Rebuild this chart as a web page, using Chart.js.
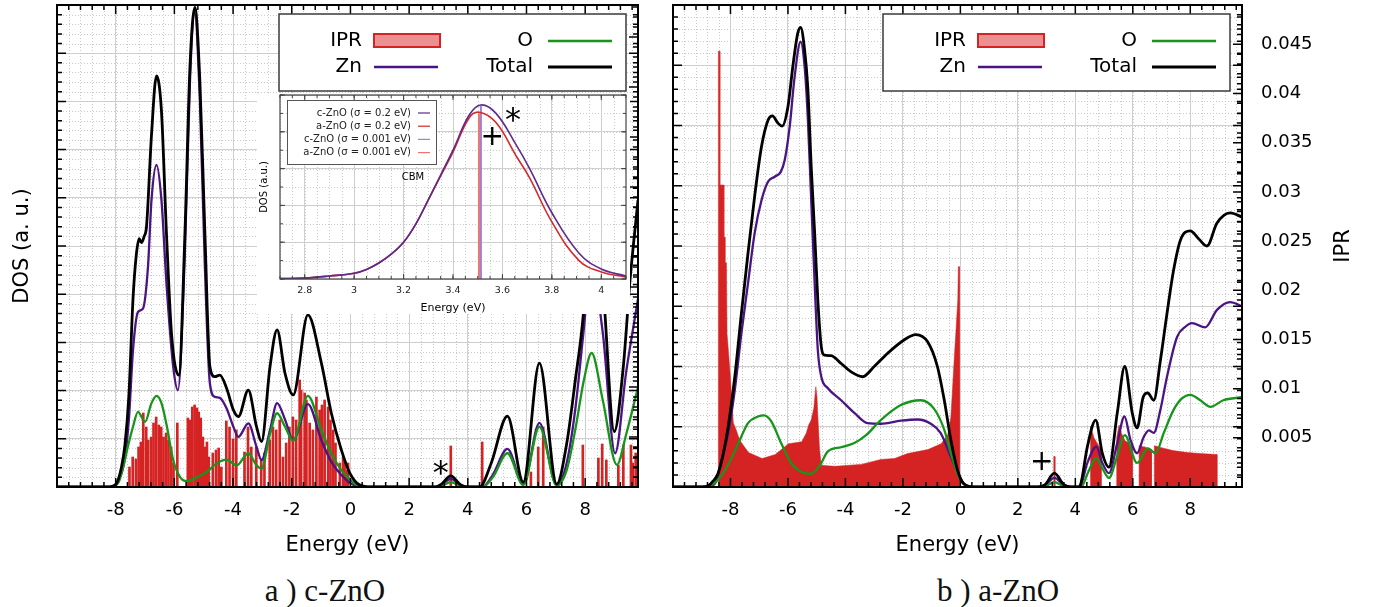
<!DOCTYPE html>
<html>
<head>
<meta charset="utf-8">
<script src="https://cdn.jsdelivr.net/npm/chart.js@4.4.1/dist/chart.umd.min.js"></script>
<style>
  body { margin: 0; background: #fff; }
  #page { position: relative; width: 1374px; height: 607px; overflow: hidden; }
  canvas { position: absolute; }
  .caption {
    position: absolute; top: 574px; width: 300px; text-align: center;
    font-family: "Liberation Serif", serif; font-size: 31px; line-height: 34px; color: #111;
  }
</style>
</head>
<body>
<div id="page">
  <canvas id="cChart" width="660" height="560" style="left:0;top:0"></canvas>
  <canvas id="aChart" width="714" height="560" style="left:660px;top:0"></canvas>
  <canvas id="inset" width="373" height="221" style="left:257px;top:93px"></canvas>
  <div class="caption" style="left:175px">a ) c-ZnO</div>
  <div class="caption" style="left:848px">b ) a-ZnO</div>
</div>
<script>
const FONT = "'DejaVu Sans', sans-serif";
Chart.defaults.font.family = FONT;
Chart.defaults.color = "#000";

const RED = "#d52222";
const ZN = "#4b1484";
const OX = "#17951b";
const TOT = "#000000";
const GRID = "#d0d0d0";
const MINOR = "#cacaca";

// axes
const energyTicks = [-8, -6, -4, -2, 0, 2, 4, 6, 8];
const energyLabels = ["-8", "-6", "-4", "-2", "0", "2", "4", "6", "8"];
const cDosTicks = [0, 1, 2, 3, 4, 5, 6, 7, 8, 9, 10];
const aDosTicks = [0, 1, 2, 3, 4, 5, 6, 7, 8];
const iprTicks = [0.005, 0.01, 0.015, 0.02, 0.025, 0.03, 0.035, 0.04, 0.045];
const iprLabels = ["0.005", "0.01", "0.015", "0.02", "0.025", "0.03", "0.035", "0.04", "0.045"];
const insetTicks = [2.8, 3, 3.2, 3.4, 3.6, 3.8, 4];
const insetLabels = ["2.8", "3", "3.2", "3.4", "3.6", "3.8", "4"];
const insetDosTicks = [0, 0.2, 0.4, 0.6, 0.8, 1];

// c-ZnO : [energy, value]
const cTotal = [[-10, 0], [-8.3, 0], [-8.0, 0.05], [-7.8, 0.42], [-7.68, 0.9], [-7.55, 1.9], [-7.41, 3.9],
  [-7.3, 4.8], [-7.2, 5.15], [-7.12, 5.07], [-7.03, 5.2], [-6.95, 5.4], [-6.78, 7.3], [-6.61, 8.53],
  [-6.44, 7.8], [-6.27, 5.27], [-6.1, 3.2], [-5.85, 2.32], [-5.64, 5.27], [-5.47, 8.7], [-5.3, 9.95],
  [-5.13, 8.4], [-4.96, 5.27], [-4.79, 2.5], [-4.62, 2.29], [-4.45, 2.32], [-4.22, 2.05], [-3.99, 1.6],
  [-3.82, 1.46], [-3.48, 2.01], [-3.2, 1.25], [-3.03, 0.94], [-2.74, 2.5], [-2.5, 3.26], [-2.23, 2.36],
  [-1.95, 1.91], [-1.45, 3.57], [-0.99, 2.57], [-0.65, 1.53], [-0.31, 0.77], [-0.02, 0.29], [0.32, 0.04],
  [0.7, 0], [2.9, 0], [3.1, 0.06], [3.42, 0.23], [3.75, 0.05], [4.0, 0], [4.4, 0], [4.8, 0.5], [5.35, 1.47],
  [5.89, 0.1], [6.44, 2.57], [7.03, 0.06], [7.37, 0.9], [7.66, 2.2], [7.94, 3.6], [8.2, 6.0], [8.6, 4.2],
  [8.99, 1.15], [9.3, 2.5], [9.53, 4.3], [9.8, 5.95]];
const cZn = [[-10, 0], [-8.2, 0], [-7.9, 0.15], [-7.7, 0.55], [-7.55, 1.4], [-7.41, 2.84], [-7.24, 3.63],
  [-7.07, 3.7], [-6.9, 4.56], [-6.78, 5.95], [-6.61, 6.68], [-6.44, 5.95], [-6.27, 4.23], [-6.04, 2.5],
  [-5.88, 2.01], [-5.64, 4.9], [-5.47, 8.4], [-5.31, 9.83], [-5.13, 8.0], [-4.96, 4.56], [-4.79, 2.15],
  [-4.62, 1.87], [-4.45, 1.85], [-4.22, 1.63], [-3.99, 1.25], [-3.82, 1.04], [-3.48, 1.32], [-3.2, 0.83],
  [-3.03, 0.56], [-2.74, 1.18], [-2.5, 1.74], [-2.23, 1.4], [-1.95, 0.97], [-1.45, 1.72], [-0.99, 0.97],
  [-0.65, 0.52], [-0.31, 0.25], [0.0, 0.08], [0.35, 0], [2.9, 0], [3.1, 0.04], [3.42, 0.17], [3.75, 0.04],
  [4.0, 0], [4.5, 0], [4.85, 0.25], [5.35, 0.79], [5.89, 0.05], [6.44, 1.33], [7.03, 0.04], [7.37, 0.5],
  [7.66, 1.6], [7.94, 3.2], [8.2, 4.6], [8.6, 3.2], [9.02, 0.7], [9.4, 2.4], [9.8, 3.9]];
const cO = [[-10, 0], [-8.2, 0], [-7.9, 0.1], [-7.75, 0.4], [-7.58, 0.85], [-7.41, 1.25], [-7.24, 1.56],
  [-7.0, 1.35], [-6.78, 1.74], [-6.61, 1.89], [-6.44, 1.74], [-6.27, 1.3], [-6.04, 0.56], [-5.81, 0.21],
  [-5.58, 0.12], [-5.24, 0.2], [-4.9, 0.31], [-4.56, 0.49], [-4.22, 0.57], [-3.88, 0.45], [-3.48, 0.7],
  [-3.2, 0.45], [-3.03, 0.38], [-2.74, 1.1], [-2.5, 1.53], [-2.23, 1.25], [-1.95, 0.96], [-1.45, 1.89],
  [-0.99, 1.18], [-0.65, 0.7], [-0.31, 0.35], [0.0, 0.15], [0.35, 0], [2.9, 0], [3.1, 0.02], [3.42, 0.1],
  [3.75, 0.02], [4.0, 0], [4.5, 0], [4.85, 0.2], [5.35, 0.7], [5.89, 0.04], [6.44, 1.25], [7.03, 0.03],
  [7.37, 0.35], [7.66, 1.18], [7.95, 2.2], [8.22, 2.78], [8.6, 1.8], [9.08, 0.46], [9.4, 1.1], [9.8, 2.07]];
const cIpr = [[-7.53, 0.0020], [-7.42, 0.0030], [-7.31, 0.0028], [-7.22, 0.0040], [-7.14, 0.0045],
  [-7.06, 0.0074], [-6.96, 0.0060], [-6.89, 0.0047], [-6.79, 0.0050], [-6.71, 0.0064], [-6.62, 0.0070],
  [-6.53, 0.0062], [-6.45, 0.0060], [-6.37, 0.0050], [-6.28, 0.0054], [-6.2, 0.0047], [-6.11, 0.0040],
  [-6.03, 0.0024], [-5.9, 0.0064], [-5.54, 0.0069], [-5.46, 0.0067], [-5.39, 0.0080], [-5.31, 0.0082],
  [-5.23, 0.0079], [-5.17, 0.0075], [-5.1, 0.0069], [-5.03, 0.0050], [-4.95, 0.0040], [-4.89, 0.0045],
  [-4.83, 0.0030], [-4.69, 0.0034], [-4.58, 0.0037], [-4.49, 0.0039], [-4.4, 0.0020], [-4.23, 0.0066],
  [-4.12, 0.0060], [-4.0, 0.0048], [-3.89, 0.0057], [-3.61, 0.0035], [-3.49, 0.0060], [-3.38, 0.0040],
  [-3.21, 0.0040], [-3.04, 0.0027], [-2.93, 0.0034], [-2.75, 0.0047], [-2.64, 0.0060], [-2.53, 0.0057],
  [-2.41, 0.0067], [-2.3, 0.0030], [-2.19, 0.0044], [-2.08, 0.0060], [-1.96, 0.0070], [-1.85, 0.0067],
  [-1.73, 0.0107], [-1.68, 0.0097], [-1.56, 0.0094], [-1.5, 0.0087], [-1.39, 0.0064], [-1.28, 0.0057],
  [-1.16, 0.0090], [-1.05, 0.0077], [-0.97, 0.0082], [-0.88, 0.0087], [-0.76, 0.0080], [-0.68, 0.0067],
  [-0.59, 0.0057], [-0.51, 0.0044], [-0.36, 0.0024], [-0.25, 0.0030], [-0.2, 0.0026], [-0.12, 0.0017],
  [-0.08, 0.0024], [3.42, 0.0041], [4.49, 0.0045], [6.15, 0.0015], [6.4, 0.0040], [6.57, 0.0060],
  [7.92, 0.0042], [8.45, 0.0029], [8.58, 0.0043], [8.72, 0.0027], [9.13, 0.0022], [9.3, 0.0042],
  [9.56, 0.0042], [9.62, 0.0024], [9.72, 0.0034]];

// a-ZnO : [energy, value]
const aTotal = [[-10, 0], [-9.0, 0], [-8.77, 0.02], [-8.6, 0.1], [-8.43, 0.23], [-8.25, 0.55], [-8.08, 1.0],
  [-7.85, 1.83], [-7.62, 2.88], [-7.39, 3.88], [-7.16, 4.82], [-6.92, 5.65], [-6.69, 6.09], [-6.54, 6.16],
  [-6.35, 6.04], [-6.2, 5.99], [-6.0, 6.31], [-5.83, 6.98], [-5.66, 7.53], [-5.56, 7.63], [-5.42, 7.25],
  [-5.31, 6.63], [-5.19, 5.31], [-5.07, 4.21], [-4.96, 3.1], [-4.84, 2.33], [-4.73, 2.19], [-4.5, 2.18],
  [-4.15, 2.05], [-3.8, 1.91], [-3.4, 1.83], [-3.0, 2.0], [-2.53, 2.22], [-1.96, 2.44], [-1.55, 2.53],
  [-1.14, 2.41], [-0.8, 2.0], [-0.56, 1.44], [-0.33, 0.78], [-0.1, 0.28], [0.13, 0.05], [0.5, 0], [2.7, 0],
  [2.95, 0.04], [3.27, 0.23], [3.6, 0.04], [3.85, 0], [4.1, 0], [4.19, 0.05], [4.42, 0.67], [4.71, 1.11],
  [4.94, 0.56], [5.17, 0.33], [5.46, 1.23], [5.72, 2.0], [5.98, 1.23], [6.15, 0.98], [6.36, 1.49],
  [6.52, 1.56], [6.73, 1.44], [6.96, 2.1], [7.19, 2.88], [7.42, 3.6], [7.66, 4.1], [8.0, 4.25], [8.29, 4.12],
  [8.58, 4.0], [8.93, 4.38], [9.39, 4.55], [9.8, 4.48]];
const aZn = [[-10, 0], [-9.0, 0], [-8.55, 0.05], [-8.31, 0.45], [-8.08, 0.9], [-7.85, 1.61], [-7.62, 2.55],
  [-7.39, 3.38], [-7.16, 4.21], [-6.92, 4.76], [-6.69, 5.07], [-6.46, 5.15], [-6.25, 5.23], [-6.11, 5.43],
  [-5.94, 5.98], [-5.77, 6.8], [-5.56, 7.39], [-5.42, 6.98], [-5.31, 6.14], [-5.19, 4.76], [-5.07, 3.38],
  [-4.96, 2.27], [-4.84, 1.83], [-4.61, 1.64], [-4.15, 1.44], [-3.69, 1.23], [-3.23, 1.06], [-2.77, 1.05],
  [-2.07, 1.1], [-1.49, 1.12], [-1.03, 1.05], [-0.69, 0.9], [-0.33, 0.5], [-0.1, 0.25], [0.13, 0.05],
  [0.5, 0], [2.7, 0], [2.95, 0.03], [3.27, 0.15], [3.6, 0.03], [3.85, 0], [4.15, 0], [4.42, 0.4],
  [4.73, 0.67], [4.94, 0.4], [5.17, 0.23], [5.46, 0.73], [5.71, 1.17], [5.92, 0.78], [6.15, 0.56],
  [6.38, 0.83], [6.56, 0.94], [6.73, 0.9], [6.96, 1.28], [7.19, 1.83], [7.54, 2.49], [7.83, 2.66],
  [8.06, 2.72], [8.52, 2.65], [8.93, 2.94], [9.39, 3.07], [9.8, 3.0]];
const aO = [[-10, 0], [-9.0, 0], [-8.7, 0.02], [-8.43, 0.12], [-8.08, 0.37], [-7.73, 0.72], [-7.39, 1.06],
  [-7.04, 1.17], [-6.83, 1.19], [-6.58, 1.09], [-6.23, 0.72], [-5.88, 0.39], [-5.54, 0.25], [-5.19, 0.22],
  [-4.9, 0.35], [-4.61, 0.59], [-4.15, 0.66], [-3.69, 0.73], [-3.28, 0.86], [-2.77, 1.11], [-2.07, 1.36],
  [-1.38, 1.44], [-0.92, 1.3], [-0.56, 0.95], [-0.33, 0.56], [-0.1, 0.22], [0.13, 0.04], [0.5, 0], [2.7, 0],
  [2.95, 0.01], [3.27, 0.08], [3.6, 0.01], [3.85, 0], [4.2, 0], [4.45, 0.25], [4.73, 0.48], [4.95, 0.3],
  [5.17, 0.15], [5.45, 0.5], [5.72, 0.86], [6.15, 0.4], [6.53, 0.64], [6.79, 0.56], [7.08, 0.9],
  [7.42, 1.28], [7.71, 1.47], [8.0, 1.53], [8.35, 1.44], [8.7, 1.33], [9.15, 1.44], [9.8, 1.49]];
const aIpr = [[-10, 0], [-8.42, 0], [-8.42, 0.0443], [-8.37, 0.0443], [-8.37, 0.0307], [-8.23, 0.0307],
  [-8.23, 0.0254], [-8.19, 0.0254], [-8.19, 0.0228], [-8.14, 0.0228], [-8.12, 0.0156], [-8.05, 0.013],
  [-8.0, 0.011], [-7.95, 0.0085], [-7.9, 0.0065], [-7.8, 0.0058], [-7.72, 0.0051], [-7.62, 0.0045],
  [-7.37, 0.0035], [-6.9, 0.0029], [-6.44, 0.0033], [-5.98, 0.0044], [-5.52, 0.0046], [-5.36, 0.0055],
  [-5.28, 0.0063], [-5.19, 0.0068], [-5.1, 0.008], [-5.03, 0.0102], [-4.99, 0.0092], [-4.96, 0.0072],
  [-4.9, 0.0038], [-4.84, 0.0022], [-4.37, 0.0021], [-3.45, 0.0023], [-2.77, 0.0028], [-2.29, 0.0029],
  [-1.84, 0.0034], [-1.13, 0.0038], [-0.67, 0.0044], [-0.44, 0.0053], [-0.33, 0.0071], [-0.21, 0.0132],
  [-0.15, 0.016], [-0.09, 0.019], [-0.07, 0.0224], [-0.04, 0.0224], [-0.04, 0.002], [-0.02, 0],
  [3.25, 0], [3.25, 0.0031], [3.29, 0.0031], [3.29, 0], [4.53, 0], [4.53, 0.0062], [4.6, 0.0055],
  [4.65, 0.005], [4.75, 0.0045], [4.9, 0.0038], [4.9, 0], [5.44, 0], [5.44, 0.005], [5.52, 0.0063],
  [5.6, 0.0055], [5.73, 0.0047], [5.85, 0.0045], [5.98, 0.0041], [5.98, 0], [6.22, 0], [6.22, 0.0042],
  [6.5, 0.004], [6.65, 0.0038], [6.65, 0], [6.75, 0], [6.75, 0.0042], [7.0, 0.004], [7.4, 0.0037],
  [7.9, 0.0035], [8.35, 0.0034], [8.93, 0.0033], [8.93, 0], [9.8, 0]];

// inset (CBM), normalised DOS
const insetC02 = [[2.7, 0.002], [2.8, 0.005], [2.9, 0.016], [3.0, 0.031], [3.05, 0.052], [3.1, 0.087],
  [3.15, 0.135], [3.2, 0.2], [3.25, 0.3], [3.3, 0.43], [3.35, 0.565], [3.4, 0.7], [3.465, 0.89],
  [3.513, 0.946], [3.574, 0.9], [3.655, 0.73], [3.71, 0.6], [3.8, 0.36], [3.91, 0.14], [4.0, 0.054],
  [4.1, 0.016]];
const insetA02 = [[2.7, 0.002], [2.8, 0.005], [2.9, 0.016], [3.0, 0.031], [3.05, 0.052], [3.1, 0.087],
  [3.15, 0.135], [3.2, 0.2], [3.25, 0.3], [3.3, 0.43], [3.35, 0.56], [3.4, 0.69], [3.465, 0.875],
  [3.506, 0.906], [3.574, 0.85], [3.655, 0.67], [3.71, 0.55], [3.8, 0.31], [3.91, 0.1], [4.0, 0.038],
  [4.1, 0.01]];
const insetC0001 = [[3.513, 0], [3.513, 0.94]];
const insetA0001 = [[3.505, 0], [3.505, 0.9]];

const pts = (arr) => arr.map(([x, y]) => ({ x, y }));
const stepValues = (min, max, step) => {
  const out = [];
  for (let i = 0; ; i++) {
    const v = min + i * step;
    if (v > max + step * 1e-6) break;
    out.push(v);
  }
  return out;
};
const noPad = (s) => { s.paddingTop = 0; s.paddingBottom = 0; s.paddingLeft = 0; s.paddingRight = 0; };

function lineSet(label, data, color, width, order) {
  return {
    type: "line", label, data: pts(data), borderColor: color, backgroundColor: color,
    borderWidth: width, pointRadius: 0, cubicInterpolationMode: "monotone",
    fill: false, order, yAxisID: "y",
  };
}

function mainLegend(ctx, chart, bx) {
  const ds = chart.data.datasets;
  const by = 14, w = 347, h = 77;
  ctx.save();
  ctx.fillStyle = "#fff";
  ctx.fillRect(bx, by, w, h);
  ctx.strokeStyle = "#3a3a3a";
  ctx.lineWidth = 1.5;
  ctx.strokeRect(bx, by, w, h);
  ctx.font = `20px ${FONT}`;
  ctx.textAlign = "right";
  ctx.textBaseline = "middle";
  ctx.fillStyle = "#000";
  // IPR, Zn, O, Total
  const slots = [[83, 95, 27], [83, 95, 53], [254, 269, 27], [254, 269, 53]];
  ds.forEach((d, i) => {
    const [tx, sx, ty] = slots[i];
    ctx.fillText(d.label, bx + tx, by + ty);
    if (i === 0) {
      ctx.fillStyle = "rgba(213,34,34,0.5)";
      ctx.fillRect(bx + sx, by + 20, 66, 13);
      ctx.strokeStyle = RED;
      ctx.lineWidth = 2;
      ctx.strokeRect(bx + sx, by + 20, 66, 13);
      ctx.fillStyle = "#000";
    } else {
      ctx.strokeStyle = d.borderColor;
      ctx.lineWidth = d.borderWidth;
      ctx.beginPath();
      ctx.moveTo(bx + sx, by + ty);
      ctx.lineTo(bx + sx + 64, by + ty);
      ctx.stroke();
    }
  });
  ctx.restore();
}

function insetLegend(ctx, chart) {
  const ds = chart.data.datasets;
  const bx = 30, by = 7, w = 149, h = 64;
  ctx.save();
  ctx.fillStyle = "#fff";
  ctx.fillRect(bx, by, w, h);
  ctx.strokeStyle = "#555";
  ctx.lineWidth = 1;
  ctx.strokeRect(bx + 0.5, by + 0.5, w, h);
  ctx.font = `10px ${FONT}`;
  ctx.textAlign = "right";
  ctx.textBaseline = "middle";
  ds.forEach((d, i) => {
    const y = by + 13 + i * 13.2;
    ctx.fillStyle = "#222";
    ctx.fillText(d.label, bx + 124, y);
    ctx.strokeStyle = d.borderColor;
    ctx.lineWidth = 1.2;
    ctx.beginPath();
    ctx.moveTo(bx + 131, y);
    ctx.lineTo(bx + 143, y);
    ctx.stroke();
  });
  ctx.restore();
}

// per-canvas decoration settings
const frames = {
  cChart: {
    xMinor: 0.4, yMinor: 0.2, y2Major: 0.005, y2Minor: 0.001, yRight: true,
    majorLen: 9, minorLen: 5, tickWidth: 1.5, borderWidth: 2, borderColor: "#000",
    legend: (ctx, chart) => mainLegend(ctx, chart, 279),
    texts: [
      { text: "Energy (eV)", x: "mid", y: 546, size: 21 },
      { text: "DOS (a. u.)", x: 23, y: "mid", size: 21, rot: -Math.PI / 2 },
    ],
    marks: [{ text: "*", x: 3.08, y: 0.38, size: 32, dy: 0.2 }],
  },
  aChart: {
    xMinor: 0.4, yMinor: 0.2, y2Major: 0.005, y2Minor: 0.001, yRight: true,
    majorLen: 9, minorLen: 5, tickWidth: 1.5, borderWidth: 2, borderColor: "#000",
    legend: (ctx, chart) => mainLegend(ctx, chart, 223),
    texts: [
      { text: "Energy (eV)", x: "mid", y: 546, size: 21 },
      { text: "IPR", x: 684, y: "mid", size: 21, rot: -Math.PI / 2 },
    ],
    marks: [{ text: "+", x: 2.83, y: 0.41, size: 28, dy: 0 }],
  },
  inset: {
    background: "#fff",
    xMinor: 0.05, yMinor: 0.1, yRight: true,
    majorLen: 5, minorLen: 3, tickWidth: 1, borderWidth: 1.2, borderColor: "#444",
    legend: insetLegend,
    texts: [
      { text: "Energy (eV)", x: "mid", y: 215, size: 11 },
      { text: "DOS (a.u.)", x: 7, y: "mid", size: 10, rot: -Math.PI / 2 },
    ],
    marks: [
      { text: "*", x: 3.643, y: 0.89, size: 32, dy: 0.2 },
      { text: "+", x: 3.559, y: 0.77, size: 28, dy: 0 },
      { text: "CBM", x: 3.238, y: 0.55, size: 10, dy: 0 },
    ],
  },
};

const framePlugin = {
  id: "frame",
  beforeDraw(chart) {
    const o = frames[chart.canvas.id];
    if (o.background) {
      const c = chart.ctx;
      c.save();
      c.fillStyle = o.background;
      c.fillRect(0, 0, chart.width, chart.height);
      c.restore();
    }
  },
  beforeDatasetsDraw(chart) {
    const o = frames[chart.canvas.id];
    const { ctx, chartArea: a } = chart;
    const { x, y } = chart.scales;
    ctx.save();
    ctx.beginPath();
    ctx.rect(a.left, a.top, a.right - a.left, a.bottom - a.top);
    ctx.clip();
    ctx.strokeStyle = MINOR;
    ctx.lineWidth = 1;
    ctx.setLineDash([1, 2]);
    ctx.beginPath();
    stepValues(x.min, x.max, o.xMinor).forEach((v) => {
      const p = Math.round(x.getPixelForValue(v)) + 0.5;
      ctx.moveTo(p, a.top);
      ctx.lineTo(p, a.bottom);
    });
    stepValues(y.min, y.max, o.yMinor).forEach((v) => {
      const p = Math.round(y.getPixelForValue(v)) + 0.5;
      ctx.moveTo(a.left, p);
      ctx.lineTo(a.right, p);
    });
    ctx.stroke();
    ctx.restore();
  },
  afterDatasetsDraw(chart) {
    const o = frames[chart.canvas.id];
    const { ctx, chartArea: a } = chart;
    const { x, y, y2 } = chart.scales;
    ctx.save();
    ctx.strokeStyle = o.borderColor;
    ctx.lineWidth = o.tickWidth;
    ctx.beginPath();
    const xt = (v, L) => {
      const p = x.getPixelForValue(v);
      ctx.moveTo(p, a.bottom); ctx.lineTo(p, a.bottom - L);
      ctx.moveTo(p, a.top); ctx.lineTo(p, a.top + L);
    };
    const yt = (sc, v, L, left, right) => {
      const p = sc.getPixelForValue(v);
      if (left) { ctx.moveTo(a.left, p); ctx.lineTo(a.left + L, p); }
      if (right) { ctx.moveTo(a.right, p); ctx.lineTo(a.right - L, p); }
    };
    stepValues(x.min, x.max, o.xMinor).forEach((v) => xt(v, o.minorLen));
    x.ticks.forEach((t) => xt(t.value, o.majorLen));
    stepValues(y.min, y.max, o.yMinor).forEach((v) => yt(y, v, o.minorLen, true, o.yRight));
    y.ticks.forEach((t) => yt(y, t.value, o.majorLen, true, o.yRight));
    if (o.y2Major && y2) {
      stepValues(0, y2.max, o.y2Minor).forEach((v) => yt(y2, v, o.minorLen, false, true));
      stepValues(0, y2.max, o.y2Major).forEach((v) => yt(y2, v, o.majorLen, false, true));
    }
    ctx.stroke();
    ctx.lineWidth = o.borderWidth;
    ctx.strokeRect(a.left, a.top, a.right - a.left, a.bottom - a.top);
    ctx.restore();
  },
  afterDraw(chart) {
    const o = frames[chart.canvas.id];
    const { ctx, chartArea: a } = chart;
    const { x, y } = chart.scales;
    o.legend(ctx, chart);
    ctx.save();
    ctx.fillStyle = "#000";
    ctx.textAlign = "center";
    ctx.textBaseline = "middle";
    o.texts.forEach((t) => {
      const px = t.x === "mid" ? (a.left + a.right) / 2 : t.x;
      const py = t.y === "mid" ? (a.top + a.bottom) / 2 : t.y;
      ctx.save();
      ctx.font = `${t.size}px ${FONT}`;
      ctx.translate(px, py);
      if (t.rot) ctx.rotate(t.rot);
      ctx.fillText(t.text, 0, 0);
      ctx.restore();
    });
    o.marks.forEach((m) => {
      ctx.font = `${m.size}px ${FONT}`;
      ctx.fillText(m.text, x.getPixelForValue(m.x), y.getPixelForValue(m.y) + m.dy * m.size);
    });
    ctx.restore();
  },
};

function mainChart(id, o) {
  return new Chart(document.getElementById(id), {
    type: "line",
    data: {
      datasets: [
        o.ipr,
        lineSet("Zn", o.zn, ZN, 2.3, 3),
        lineSet("O", o.ox, OX, 2.3, 2),
        lineSet("Total", o.total, TOT, 2.8, 1),
      ],
    },
    options: {
      responsive: false,
      animation: false,
      events: [],
      layout: { padding: o.padding },
      plugins: { legend: { display: false }, tooltip: { enabled: false } },
      scales: {
        x: {
          type: "linear", min: -10, max: 9.8, offset: false,
          afterBuildTicks: (s) => { s.ticks = energyTicks.map((v) => ({ value: v })); },
          afterFit: (s) => { s.height = 73; noPad(s); },
          grid: { color: GRID, lineWidth: 1, drawTicks: false, offset: false },
          border: { display: false },
          ticks: {
            padding: 13, font: { size: 18 }, color: "#000", maxRotation: 0, autoSkip: false,
            callback: (v, i) => energyLabels[i],
          },
        },
        y: {
          type: "linear", min: 0, max: o.dosTicks[o.dosTicks.length - 1],
          afterBuildTicks: (s) => { s.ticks = o.dosTicks.map((v) => ({ value: v })); },
          afterFit: (s) => { s.width = o.leftWidth; noPad(s); },
          grid: { color: GRID, lineWidth: 1, drawTicks: false },
          border: { display: false },
          ticks: { display: false },
        },
        y2: {
          type: "linear", position: "right", min: 0, max: o.iprMax,
          display: o.showIpr,
          afterBuildTicks: (s) => { s.ticks = iprTicks.map((v) => ({ value: v })); },
          afterFit: (s) => { s.width = o.showIpr ? 132 : 0; noPad(s); },
          grid: { drawOnChartArea: false, drawTicks: false },
          border: { display: false },
          ticks: {
            padding: 19, font: { size: 18 }, color: "#000", autoSkip: false,
            callback: (v, i) => iprLabels[i],
          },
        },
      },
    },
    plugins: [framePlugin],
  });
}

mainChart("cChart", {
  ipr: {
    type: "bar", label: "IPR", data: pts(cIpr), backgroundColor: RED,
    barThickness: 2, yAxisID: "y2", order: 10,
  },
  zn: cZn, ox: cO, total: cTotal,
  dosTicks: cDosTicks, iprMax: 0.0482, showIpr: false, leftWidth: 57,
  padding: { top: 5, right: 22, left: 0, bottom: 0 },
});

mainChart("aChart", {
  ipr: {
    type: "line", label: "IPR", data: pts(aIpr), backgroundColor: RED, borderColor: RED,
    borderWidth: 0.5, fill: "origin", pointRadius: 0, tension: 0, yAxisID: "y2", order: 10,
  },
  zn: aZn, ox: aO, total: aTotal,
  dosTicks: aDosTicks, iprMax: 0.049, showIpr: true, leftWidth: 13,
  padding: { top: 5, right: 0, left: 0, bottom: 0 },
});

function insetLine(label, data, color, width, smooth) {
  return {
    label, data: pts(data), borderColor: color, backgroundColor: color, borderWidth: width,
    pointRadius: 0, fill: false, tension: smooth ? 0.4 : 0,
  };
}

new Chart(document.getElementById("inset"), {
  type: "line",
  data: {
    datasets: [
      insetLine("c-ZnO (σ = 0.2 eV)", insetC02, "#5e2a90", 1.6, true),
      insetLine("a-ZnO (σ = 0.2 eV)", insetA02, "#d42a2a", 1.6, true),
      insetLine("c-ZnO (σ = 0.001 eV)", insetC0001, "#a17fd6", 2, false),
      insetLine("a-ZnO (σ = 0.001 eV)", insetA0001, "#ea7471", 2, false),
    ],
  },
  options: {
    responsive: false,
    animation: false,
    events: [],
    layout: { padding: { top: 2, right: 4, left: 0, bottom: 0 } },
    plugins: { legend: { display: false }, tooltip: { enabled: false } },
    scales: {
      x: {
        type: "linear", min: 2.7, max: 4.1,
        afterBuildTicks: (s) => { s.ticks = insetTicks.map((v) => ({ value: v })); },
        afterFit: (s) => { s.height = 35; noPad(s); },
        grid: { color: GRID, drawTicks: false },
        border: { display: false },
        ticks: {
          padding: 6, font: { size: 9.5 }, color: "#222", maxRotation: 0, autoSkip: false,
          callback: (v, i) => insetLabels[i],
        },
      },
      y: {
        type: "linear", min: 0, max: 1,
        afterBuildTicks: (s) => { s.ticks = insetDosTicks.map((v) => ({ value: v })); },
        afterFit: (s) => { s.width = 23; noPad(s); },
        grid: { color: GRID, drawTicks: false },
        border: { display: false },
        ticks: { display: false },
      },
    },
  },
  plugins: [framePlugin],
});
</script>
</body>
</html>
